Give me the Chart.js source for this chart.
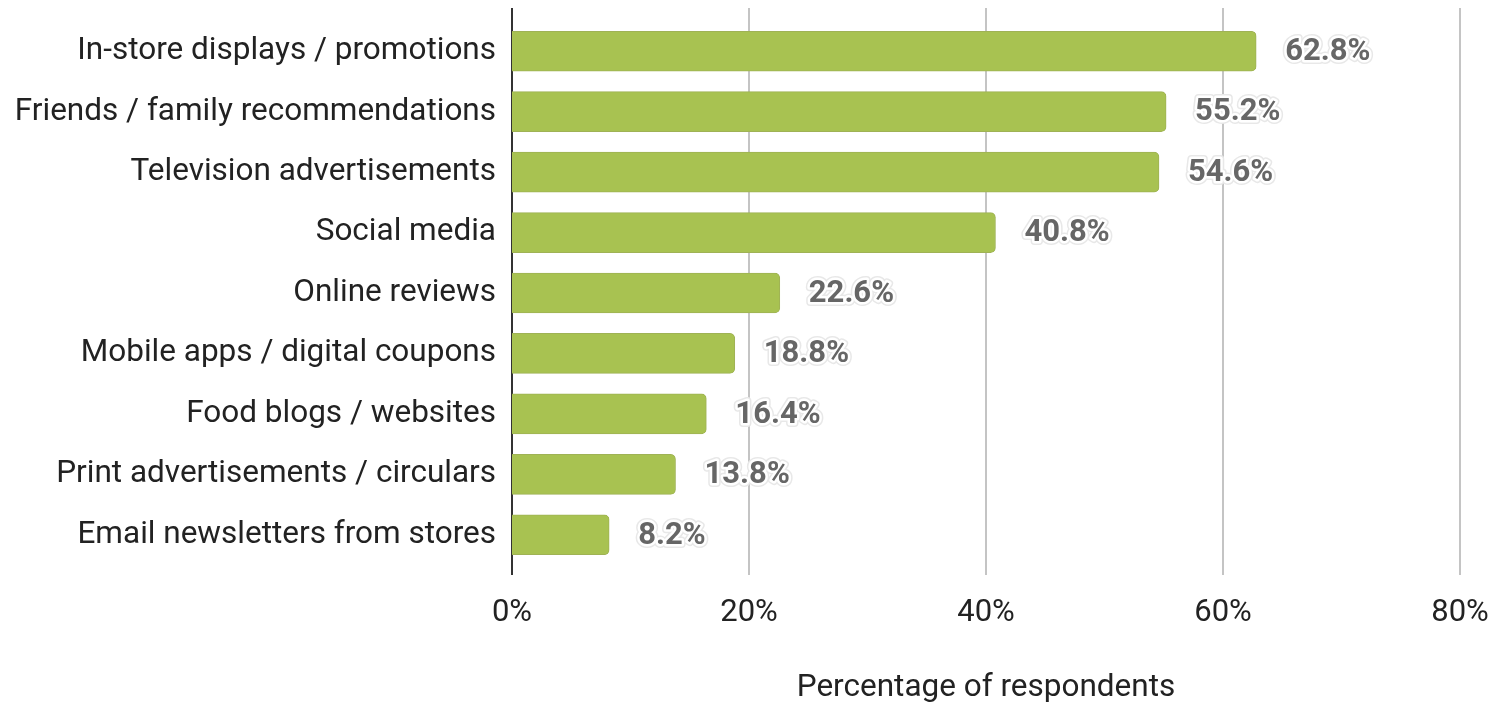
<!DOCTYPE html>
<html>
<head>
<meta charset="utf-8">
<script src="https://cdn.jsdelivr.net/npm/chart.js@4/dist/chart.umd.min.js"></script>
<style>
  html, body { margin: 0; padding: 0; background: #ffffff; }
  #wrap { width: 1491px; height: 705px; position: relative; }
</style>
</head>
<body>
<div id="wrap"><canvas id="chart" width="1491" height="705"></canvas></div>
<script>
const categories = [
  'In-store displays / promotions',
  'Friends / family recommendations',
  'Television advertisements',
  'Social media',
  'Online reviews',
  'Mobile apps / digital coupons',
  'Food blogs / websites',
  'Print advertisements / circulars',
  'Email newsletters from stores'
];
const shares = [62.8, 55.2, 54.6, 40.8, 22.6, 18.8, 16.4, 13.8, 8.2];
const xTicks = [0, 20, 40, 60, 80];
const axisTitle = 'Percentage of respondents';

const FONT = 'Roboto, "Noto Sans", sans-serif';

// Vertical gridlines and the zero axis, drawn a bit taller than the bar bands
const gridPlugin = {
  id: 'tallGrid',
  beforeDatasetsDraw(chart) {
    const { ctx, chartArea, scales } = chart;
    const top = chartArea.top - 13;
    const bottom = chartArea.bottom + 10;
    ctx.save();
    ctx.lineWidth = 2;
    ctx.strokeStyle = '#c4c4c4';
    xTicks.forEach(v => {
      if (v === 0) return;
      const x = Math.round(scales.x.getPixelForValue(v));
      ctx.beginPath();
      ctx.moveTo(x, top);
      ctx.lineTo(x, bottom);
      ctx.stroke();
    });
    ctx.strokeStyle = '#333333';
    const x0 = Math.round(scales.x.getPixelForValue(0));
    ctx.beginPath();
    ctx.moveTo(x0, top);
    ctx.lineTo(x0, bottom);
    ctx.stroke();
    ctx.restore();
  }
};

// Value labels with a white halo, placed past each bar end
const valueLabels = {
  id: 'valueLabels',
  afterDatasetsDraw(chart) {
    const { ctx } = chart;
    const meta = chart.getDatasetMeta(0);
    ctx.save();
    ctx.font = 'bold 31px ' + FONT;
    ctx.textBaseline = 'middle';
    ctx.textAlign = 'left';
    ctx.lineJoin = 'round';
    meta.data.forEach((bar, i) => {
      const text = shares[i].toFixed(1) + '%';
      const x = bar.x + 29;
      const y = bar.y + 1;
      ctx.strokeStyle = '#e8e8e8';
      ctx.lineWidth = 8;
      ctx.strokeText(text, x, y);
      ctx.strokeStyle = '#ffffff';
      ctx.lineWidth = 5;
      ctx.strokeText(text, x, y);
      ctx.fillStyle = '#666666';
      ctx.fillText(text, x, y);
    });
    ctx.restore();
  }
};

new Chart(document.getElementById('chart'), {
  type: 'bar',
  data: {
    labels: categories,
    datasets: [{
      data: shares,
      backgroundColor: '#a8c251',
      borderColor: '#9fb255',
      borderWidth: 1,
      borderSkipped: 'start',
      borderRadius: 5,
      barThickness: 40
    }]
  },
  options: {
    indexAxis: 'y',
    responsive: false,
    animation: false,
    layout: { padding: { top: 21, right: 31, left: 0, bottom: 0 } },
    plugins: {
      legend: { display: false },
      tooltip: { enabled: false }
    },
    scales: {
      x: {
        min: 0,
        max: 80,
        afterBuildTicks(scale) {
          scale.ticks = xTicks.map(v => ({ value: v }));
        },
        afterFit(scale) {
          scale.height = 140;
          scale.paddingLeft = 0;
          scale.paddingRight = 0;
        },
        grid: { display: false, drawTicks: false },
        border: { display: false },
        ticks: {
          padding: 30,
          color: '#222222',
          font: { family: FONT, size: 31 },
          maxRotation: 0,
          callback: v => v + '%'
        },
        title: {
          display: true,
          text: axisTitle,
          color: '#222222',
          font: { family: FONT, size: 31.5, lineHeight: 1.1 },
          padding: { top: 0, bottom: 0 }
        }
      },
      y: {
        afterFit(scale) {
          scale.width = 512;
          scale.paddingTop = 0;
          scale.paddingBottom = 0;
        },
        grid: { display: false, drawTicks: false },
        border: { display: false },
        ticks: {
          padding: 16,
          color: '#222222',
          font: { family: FONT, size: 31.5 }
        }
      }
    }
  },
  plugins: [gridPlugin, valueLabels]
});
</script>
</body>
</html>
